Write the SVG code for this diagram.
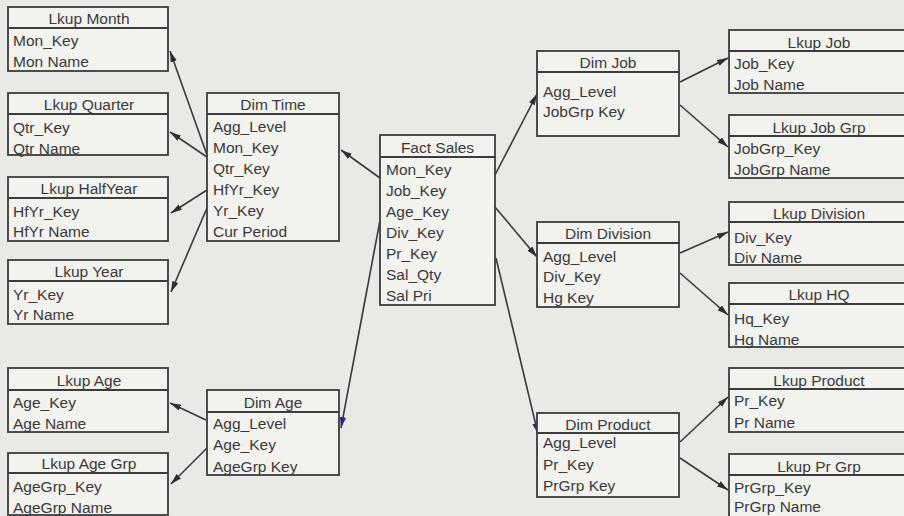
<svg xmlns="http://www.w3.org/2000/svg" width="904" height="516" viewBox="0 0 904 516">
<style>
.bg{fill:#e9e9e6}
.box{fill:#f2f2ef;stroke:#3c3c3c;stroke-width:1.8}
.hl{stroke:#3c3c3c;stroke-width:1.8}
text{font-family:"Liberation Sans",Arial,sans-serif;font-size:15.5px;fill:#3a3a3a}
.hd{text-anchor:middle}
.cn{stroke:#3a3a3a;stroke-width:1.6;fill:none}
</style>
<defs>
<marker id="ah" markerUnits="userSpaceOnUse" markerWidth="12" markerHeight="8" refX="11" refY="4" orient="auto">
<path d="M0,0.8 L11,4 L0,7.2 z" fill="#2e2e2e"/>
</marker>
<marker id="ahb" markerUnits="userSpaceOnUse" markerWidth="12" markerHeight="8" refX="11" refY="4" orient="auto">
<path d="M0,0.8 L11,4 L0,7.2 z" fill="#2a2a8a"/>
</marker>
</defs>
<rect class="bg" x="0" y="0" width="904" height="516"/>

<g id="connectors">
<line class="cn" x1="207" y1="155" x2="170" y2="51" marker-end="url(#ah)"/>
<line class="cn" x1="207" y1="157" x2="170" y2="132" marker-end="url(#ah)"/>
<line class="cn" x1="207" y1="190" x2="171" y2="213" marker-end="url(#ah)"/>
<line class="cn" x1="207" y1="208" x2="171" y2="292" marker-end="url(#ah)"/>
<line class="cn" x1="380" y1="178" x2="341" y2="150" marker-end="url(#ah)"/>
<line class="cn" x1="381" y1="215" x2="341" y2="428" marker-end="url(#ahb)"/>
<line class="cn" x1="495" y1="175" x2="537" y2="94" marker-end="url(#ah)"/>
<line class="cn" x1="495" y1="207" x2="537" y2="257" marker-end="url(#ah)"/>
<line class="cn" x1="496" y1="258" x2="538" y2="434" marker-end="url(#ahb)"/>
<line class="cn" x1="680" y1="82" x2="728" y2="58" marker-end="url(#ah)"/>
<line class="cn" x1="680" y1="105" x2="728" y2="147" marker-end="url(#ah)"/>
<line class="cn" x1="680" y1="253" x2="728" y2="232" marker-end="url(#ah)"/>
<line class="cn" x1="680" y1="273" x2="728" y2="315" marker-end="url(#ah)"/>
<line class="cn" x1="680" y1="442" x2="728" y2="397" marker-end="url(#ah)"/>
<line class="cn" x1="680" y1="458" x2="728" y2="490" marker-end="url(#ah)"/>
<line class="cn" x1="206" y1="420" x2="170" y2="403" marker-end="url(#ah)"/>
<line class="cn" x1="207" y1="448" x2="171" y2="484" marker-end="url(#ah)"/>
</g>

<g id="lkup-month">
<rect class="box" x="8" y="7" width="160" height="64"/>
<line class="hl" x1="8" y1="28" x2="168" y2="28"/>
<text class="hd" x="89" y="24">Lkup Month</text>
<text x="13" y="46">Mon_Key</text>
<text x="13" y="67">Mon Name</text>
</g>

<g id="lkup-quarter">
<rect class="box" x="8" y="93" width="160" height="62"/>
<line class="hl" x1="8" y1="114" x2="168" y2="114"/>
<text class="hd" x="89" y="110">Lkup Quarter</text>
<text x="13" y="133">Qtr_Key</text>
<text x="13" y="154">Qtr Name</text>
</g>

<g id="lkup-halfyear">
<rect class="box" x="8" y="177" width="160" height="64"/>
<line class="hl" x1="8" y1="198" x2="168" y2="198"/>
<text class="hd" x="89" y="194">Lkup HalfYear</text>
<text x="13" y="217">HfYr_Key</text>
<text x="13" y="237">HfYr Name</text>
</g>

<g id="lkup-year">
<rect class="box" x="8" y="260" width="160" height="64"/>
<line class="hl" x1="8" y1="281" x2="168" y2="281"/>
<text class="hd" x="89" y="277">Lkup Year</text>
<text x="13" y="300">Yr_Key</text>
<text x="13" y="320">Yr Name</text>
</g>

<g id="lkup-age">
<rect class="box" x="8" y="368" width="160" height="64"/>
<line class="hl" x1="8" y1="390" x2="168" y2="390"/>
<text class="hd" x="89" y="386">Lkup Age</text>
<text x="13" y="408">Age_Key</text>
<text x="13" y="429">Age Name</text>
</g>

<g id="lkup-age-grp">
<rect class="box" x="8" y="453" width="160" height="62"/>
<line class="hl" x1="8" y1="473" x2="168" y2="473"/>
<text class="hd" x="89" y="469">Lkup Age Grp</text>
<text x="13" y="492">AgeGrp_Key</text>
<text x="13" y="513">AgeGrp Name</text>
</g>

<g id="dim-time">
<rect class="box" x="207" y="93" width="132" height="148"/>
<line class="hl" x1="207" y1="114" x2="339" y2="114"/>
<text class="hd" x="273" y="110">Dim Time</text>
<text x="213" y="132">Agg_Level</text>
<text x="213" y="153">Mon_Key</text>
<text x="213" y="174">Qtr_Key</text>
<text x="213" y="195">HfYr_Key</text>
<text x="213" y="216">Yr_Key</text>
<text x="213" y="237">Cur Period</text>
</g>

<g id="dim-age">
<rect class="box" x="207" y="390" width="132" height="85"/>
<line class="hl" x1="207" y1="412" x2="339" y2="412"/>
<text class="hd" x="273" y="408">Dim Age</text>
<text x="213" y="429">Agg_Level</text>
<text x="213" y="450">Age_Key</text>
<text x="213" y="472">AgeGrp Key</text>
</g>

<g id="fact-sales">
<rect class="box" x="380" y="135" width="115" height="170"/>
<line class="hl" x1="380" y1="157" x2="495" y2="157"/>
<text class="hd" x="437.5" y="153">Fact Sales</text>
<text x="386" y="175">Mon_Key</text>
<text x="386" y="196">Job_Key</text>
<text x="386" y="217">Age_Key</text>
<text x="386" y="238">Div_Key</text>
<text x="386" y="259">Pr_Key</text>
<text x="386" y="280">Sal_Qty</text>
<text x="386" y="301">Sal Pri</text>
</g>

<g id="dim-job">
<rect class="box" x="537" y="51" width="142" height="85"/>
<line class="hl" x1="537" y1="72" x2="679" y2="72"/>
<text class="hd" x="608" y="68">Dim Job</text>
<text x="543" y="97">Agg_Level</text>
<text x="543" y="117">JobGrp Key</text>
</g>

<g id="dim-division">
<rect class="box" x="537" y="222" width="142" height="85"/>
<line class="hl" x1="537" y1="243" x2="679" y2="243"/>
<text class="hd" x="608" y="239">Dim Division</text>
<text x="543" y="262">Agg_Level</text>
<text x="543" y="282">Div_Key</text>
<text x="543" y="303">Hg Key</text>
</g>

<g id="dim-product">
<rect class="box" x="537" y="413" width="142" height="84"/>
<line class="hl" x1="537" y1="433" x2="679" y2="433"/>
<text class="hd" x="608" y="430">Dim Product</text>
<text x="543" y="448">Agg_Level</text>
<text x="543" y="470">Pr_Key</text>
<text x="543" y="491">PrGrp Key</text>
</g>

<g id="lkup-job">
<rect class="box" x="729" y="30" width="190" height="63"/>
<line class="hl" x1="729" y1="51" x2="919" y2="51"/>
<text class="hd" x="819" y="48">Lkup Job</text>
<text x="734" y="69">Job_Key</text>
<text x="734" y="90">Job Name</text>
</g>

<g id="lkup-job-grp">
<rect class="box" x="729" y="115" width="190" height="63"/>
<line class="hl" x1="729" y1="136" x2="919" y2="136"/>
<text class="hd" x="819" y="133">Lkup Job Grp</text>
<text x="734" y="154">JobGrp_Key</text>
<text x="734" y="175">JobGrp Name</text>
</g>

<g id="lkup-division">
<rect class="box" x="729" y="202" width="190" height="63"/>
<line class="hl" x1="729" y1="222" x2="919" y2="222"/>
<text class="hd" x="819" y="219">Lkup Division</text>
<text x="734" y="243">Div_Key</text>
<text x="734" y="263">Div Name</text>
</g>

<g id="lkup-hq">
<rect class="box" x="729" y="283" width="190" height="64"/>
<line class="hl" x1="729" y1="304" x2="919" y2="304"/>
<text class="hd" x="819" y="300">Lkup HQ</text>
<text x="734" y="324">Hq_Key</text>
<text x="734" y="345">Hg Name</text>
</g>

<g id="lkup-product">
<rect class="box" x="729" y="368" width="190" height="64"/>
<line class="hl" x1="729" y1="389" x2="919" y2="389"/>
<text class="hd" x="819" y="386">Lkup Product</text>
<text x="734" y="406">Pr_Key</text>
<text x="734" y="428">Pr Name</text>
</g>

<g id="lkup-pr-grp">
<rect class="box" x="729" y="454" width="190" height="70"/>
<line class="hl" x1="729" y1="475" x2="919" y2="475"/>
<text class="hd" x="819" y="472">Lkup Pr Grp</text>
<text x="734" y="493">PrGrp_Key</text>
<text x="734" y="512">PrGrp Name</text>
</g>
</svg>
